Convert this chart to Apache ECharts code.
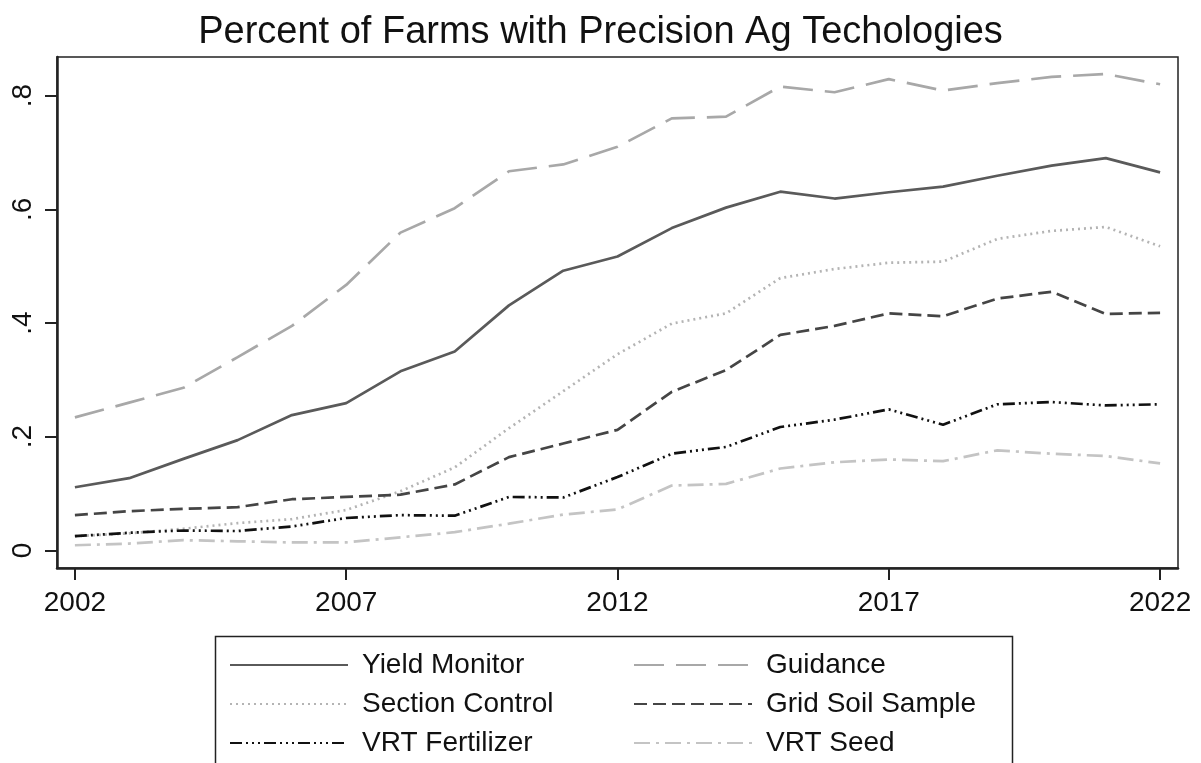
<!DOCTYPE html>
<html>
<head>
<meta charset="utf-8">
<script src="https://cdn.jsdelivr.net/npm/echarts@6/dist/echarts.min.js"></script>
<style>
  html, body { margin: 0; padding: 0; background: #fff; }
  #chart { width: 1201px; height: 763px; }
</style>
</head>
<body>
<div id="chart"></div>
<script>
// years on the x axis
const years = [2002, 2003, 2004, 2005, 2006, 2007, 2008, 2009, 2010, 2011, 2012,
  2013, 2014, 2015, 2016, 2017, 2018, 2019, 2020, 2021, 2022];

// share of farms using each technology
const yieldMonitor = [0.111, 0.127, 0.161, 0.194, 0.238, 0.259, 0.315, 0.350, 0.431, 0.492, 0.517,
  0.567, 0.603, 0.631, 0.619, 0.630, 0.640, 0.659, 0.677, 0.690, 0.665];
const guidance = [0.234, 0.260, 0.286, 0.340, 0.395, 0.467, 0.559, 0.602, 0.667, 0.679, 0.710,
  0.760, 0.763, 0.816, 0.806, 0.829, 0.809, 0.822, 0.833, 0.838, 0.820];
const sectionControl = [0.025, 0.030, 0.038, 0.048, 0.055, 0.071, 0.104, 0.146, 0.215, 0.280, 0.345,
  0.399, 0.417, 0.479, 0.495, 0.506, 0.508, 0.548, 0.562, 0.569, 0.535];
const gridSoil = [0.062, 0.069, 0.073, 0.076, 0.090, 0.094, 0.098, 0.116, 0.164, 0.188, 0.212,
  0.279, 0.317, 0.379, 0.395, 0.417, 0.412, 0.443, 0.455, 0.416, 0.418];
const vrtFertilizer = [0.025, 0.031, 0.035, 0.034, 0.042, 0.057, 0.062, 0.061, 0.094, 0.093, 0.129,
  0.170, 0.182, 0.217, 0.230, 0.248, 0.221, 0.257, 0.261, 0.255, 0.257];
const vrtSeed = [0.009, 0.012, 0.018, 0.016, 0.014, 0.014, 0.023, 0.032, 0.047, 0.063, 0.072,
  0.114, 0.117, 0.144, 0.155, 0.160, 0.157, 0.176, 0.170, 0.166, 0.153];

// tick positions and labels
const xTicks = [2002, 2007, 2012, 2017, 2022];
const yTicks = [0, 0.2, 0.4, 0.6, 0.8];
const yTickLabels = ['0', '.2', '.4', '.6', '.8'];

const font = '"Liberation Sans", Arial, sans-serif';

function pairs(vals) {
  return years.map(function (y, i) { return [y, vals[i]]; });
}

function lineSeries(name, vals, color, dash, width) {
  return {
    name: name,
    type: 'line',
    data: pairs(vals),
    symbol: 'none',
    showSymbol: false,
    silent: true,
    animation: false,
    lineStyle: { color: color, width: width || 2.7, type: dash, cap: 'butt' },
    itemStyle: { color: color }
  };
}

// two legend columns, same look
function legendCol(left, names) {
  return {
    orient: 'vertical',
    left: left,
    top: 646,
    itemWidth: 118,
    itemHeight: 14,
    itemGap: 11,
    selectedMode: false,
    itemStyle: { opacity: 0 },
    data: names,
    textStyle: { fontFamily: font, fontSize: 28, color: '#111', padding: [0, 0, 0, 9] }
  };
}

const chart = echarts.init(document.getElementById('chart'));

chart.setOption({
  backgroundColor: '#fff',
  animation: false,
  title: {
    text: 'Percent of Farms with Precision Ag Techologies',
    left: 'center',
    top: 9,
    textStyle: { fontFamily: font, fontSize: 38, fontWeight: 'normal', color: '#111' }
  },
  grid: {
    left: 57, right: 23, top: 57, bottom: 195,
    show: true, borderColor: '#222', borderWidth: 1.5, backgroundColor: '#fff'
  },
  xAxis: {
    type: 'value',
    min: 2001.67,
    max: 2022.33,
    splitLine: { show: false },
    axisLine: { show: true, onZero: false, lineStyle: { color: '#222', width: 2.5 } },
    axisTick: { show: true, length: 12, lineStyle: { color: '#222', width: 2 }, customValues: xTicks },
    axisLabel: {
      customValues: xTicks,
      margin: 21,
      fontFamily: font, fontSize: 28, color: '#111',
      formatter: function (v) { return String(Math.round(v)); }
    }
  },
  yAxis: {
    type: 'value',
    min: -0.031,
    max: 0.868,
    splitLine: { show: false },
    axisLine: { show: true, onZero: false, lineStyle: { color: '#222', width: 2.5 } },
    axisTick: { show: true, length: 12, lineStyle: { color: '#222', width: 2 }, customValues: yTicks },
    axisLabel: {
      customValues: yTicks,
      rotate: 90,
      margin: 20,
      fontFamily: font, fontSize: 28, color: '#111',
      formatter: function (v) {
        const i = yTicks.findIndex(function (t) { return Math.abs(t - v) < 1e-6; });
        return i >= 0 ? yTickLabels[i] : '';
      }
    }
  },
  legend: [
    legendCol(224, ['Yield Monitor', 'Section Control', 'VRT Fertilizer']),
    legendCol(628, ['Guidance', 'Grid Soil Sample', 'VRT Seed'])
  ],
  graphic: [
    {
      type: 'rect',
      left: 213,
      top: 634,
      shape: { width: 797, height: 160 },
      style: { fill: 'none', stroke: '#222', lineWidth: 1.5 },
      z: -1
    }
  ],
  series: [
    lineSeries('Yield Monitor', yieldMonitor, '#5a5a5a', 'solid'),
    lineSeries('Guidance', guidance, '#a8a8a8', [30, 12]),
    lineSeries('Section Control', sectionControl, '#b4b4b4', [2, 4]),
    lineSeries('Grid Soil Sample', gridSoil, '#454545', [13, 6]),
    lineSeries('VRT Fertilizer', vrtFertilizer, '#111111', [12, 4, 2, 4, 2, 4, 2, 4]),
    lineSeries('VRT Seed', vrtSeed, '#c4c4c4', [16, 6, 3, 6])
  ]
});
</script>
</body>
</html>
